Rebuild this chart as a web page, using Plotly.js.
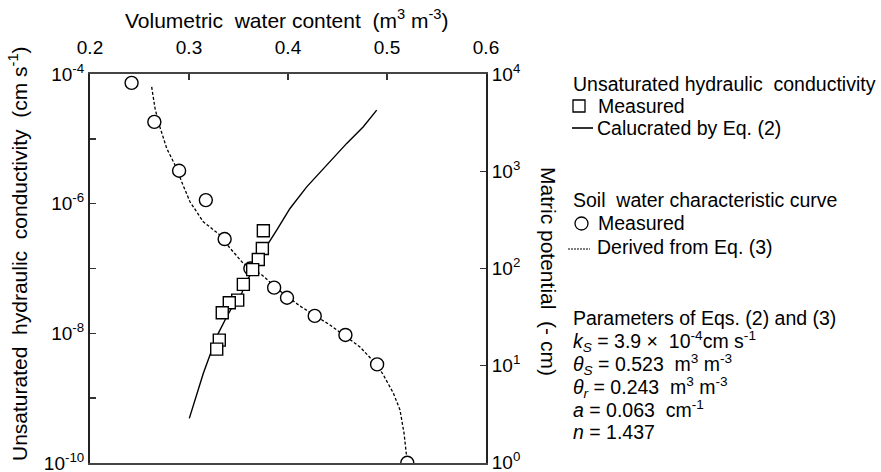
<!DOCTYPE html>
<html>
<head>
<meta charset="utf-8">
<script src="https://cdn.plot.ly/plotly-3.0.1.min.js"></script>
<style>html,body{margin:0;padding:0;background:#fff;}#chart{width:881px;height:472px;}</style>
</head>
<body>
<div id="chart"></div>
<script>
// Soil water characteristic curve: measured (theta, h)
const swccTheta = [0.242, 0.265, 0.290, 0.317, 0.336, 0.362, 0.386, 0.399, 0.427, 0.458, 0.490, 0.5205];
const swccH     = [8150, 3230, 1015, 506, 201, 100, 63.5, 50, 32.5, 20.7, 10.3, 1.0];
// Derived from Eq. (3)
const eq3Theta = [0.2623, 0.2657, 0.2700, 0.2775, 0.2876, 0.2926, 0.3010, 0.3144, 0.3313, 0.3414, 0.3548, 0.3737, 0.3919, 0.4121, 0.4424, 0.4727, 0.4896, 0.4963, 0.5064, 0.5131, 0.5172, 0.5199, 0.5205];
const eq3H     = [7390, 4440, 2990, 1720, 1072, 781, 486, 303, 221, 162, 113, 85.7, 58.7, 41.1, 26.2, 15.6, 10.2, 8.04, 5.21, 3.51, 2.02, 1.16, 1.0];
// Unsaturated hydraulic conductivity: measured (theta, K)
const kTheta = [0.3751, 0.3741, 0.3700, 0.3643, 0.3549, 0.3492, 0.3407, 0.3336, 0.3306, 0.3280];
const kMeas  = [3.82e-7, 2.04e-7, 1.38e-7, 9.6e-8, 5.69e-8, 3.25e-8, 2.96e-8, 2.07e-8, 7.85e-9, 5.7e-9];
// Calculated by Eq. (2)
const eq2Theta = [0.3003, 0.3078, 0.3144, 0.3212, 0.3296, 0.3381, 0.3447, 0.3532, 0.3583, 0.3633, 0.3697, 0.3747, 0.3801, 0.3886, 0.4020, 0.4189, 0.4391, 0.4593, 0.4761, 0.4896];
const eq2K     = [4.86e-10, 1.18e-9, 2.40e-9, 4.61e-9, 9.96e-9, 1.80e-8, 2.72e-8, 4.13e-8, 6.62e-8, 8.4e-8, 1.26e-7, 1.79e-7, 2.44e-7, 3.92e-7, 8.45e-7, 1.82e-6, 3.94e-6, 8.53e-6, 1.54e-5, 2.78e-5];
// Tick labels
const xTicks = [0.2, 0.3, 0.4, 0.5, 0.6];
const kTickVals = [1e-10, 1e-9, 1e-8, 1e-7, 1e-6, 1e-5, 1e-4];
const kTickText = ['10<sup>-10</sup>', '', '10<sup>-8</sup>', '', '10<sup>-6</sup>', '', '10<sup>-4</sup>'];
const hTickVals = [1, 10, 100, 1000, 10000];
const hTickText = ['10<sup>0</sup>', '10<sup>1</sup>', '10<sup>2</sup>', '10<sup>3</sup>', '10<sup>4</sup>'];

const FONT = 'Liberation Sans, Arial, sans-serif';
const TXT = 19.5;
const EPS = 0.002;

const traces = [
  {x: eq3Theta, y: eq3H, yaxis: 'y', mode: 'lines', line: {color: '#000', width: 1.3, dash: '3px,2px'}},
  {x: swccTheta, y: swccH, yaxis: 'y', mode: 'markers', marker: {symbol: 'circle', size: 13, color: '#fff', line: {color: '#000', width: 1.4}}},
  {x: eq2Theta, y: eq2K, yaxis: 'y2', mode: 'lines', line: {color: '#000', width: 1.4}},
  {x: kTheta, y: kMeas, yaxis: 'y2', mode: 'markers', marker: {symbol: 'square', size: 12, color: '#fff', line: {color: '#000', width: 1.4}}}
];

function px2paper(px, py) { return {x: (px - 90) / 396, y: (463 - py) / 389}; }
function ann(text, px, py, opts) {
  const p = px2paper(px, py);
  return Object.assign({text: text, x: p.x, y: p.y, xref: 'paper', yref: 'paper', showarrow: false,
    xanchor: 'left', yanchor: 'middle', font: {family: FONT, size: TXT, color: '#000'}}, opts || {});
}

const annotations = [
  ann('Volumetric  water content  (m<sup>3</sup> m<sup>-3</sup>)', 287, 19, {xanchor: 'center', font: {family: FONT, size: 21, color: '#000'}}),
  ann('Unsaturated  hydraulic  conductivity  (cm s<sup>-1</sup>)', 18, 254, {xanchor: 'center', textangle: -90, font: {family: FONT, size: 21, color: '#000'}}),
  ann('Matric potential  (- cm)', 549, 271, {xanchor: 'center', textangle: 90, font: {family: FONT, size: 21, color: '#000'}}),
  ann('Unsaturated hydraulic  conductivity', 571, 84),
  ann('Measured', 596, 106),
  ann('Calucrated by Eq. (2)', 595, 128),
  ann('Soil  water characteristic curve', 571, 200),
  ann('Measured', 596, 223),
  ann('Derived from Eq. (3)', 595, 247),
  ann('Parameters of Eqs. (2) and (3)', 571, 318),
  ann('<i>k<sub>S</sub></i> = 3.9 \u00D7  10<sup>-4</sup>cm s<sup>-1</sup>', 571, 341),
  ann('<i>\u03B8<sub>S</sub></i> = 0.523  m<sup>3</sup> m<sup>-3</sup>', 571, 364),
  ann('<i>\u03B8<sub>r</sub></i> = 0.243  m<sup>3</sup> m<sup>-3</sup>', 571, 387),
  ann('<i>a</i> = 0.063  cm<sup>-1</sup>', 571, 409),
  ann('<i>n</i> = 1.437', 571, 432)
];

function rect(type, x0, y0, x1, y1, line) {
  const a = px2paper(x0, y1), b = px2paper(x1, y0);
  return {type: type, xref: 'paper', yref: 'paper', x0: a.x, y0: a.y, x1: b.x, y1: b.y, line: line, fillcolor: 'rgba(0,0,0,0)'};
}
function seg(x0, x1, y, line) {
  const a = px2paper(x0, y), b = px2paper(x1, y);
  return {type: 'line', xref: 'paper', yref: 'paper', x0: a.x, y0: a.y, x1: b.x, y1: b.y, line: line};
}
const shapes = [
  rect('rect', 573, 100, 585, 112, {color: '#000', width: 1.3}),
  seg(572, 593, 128, {color: '#000', width: 1.6}),
  rect('circle', 575, 217, 588, 230, {color: '#000', width: 1.3}),
  seg(568, 590, 249, {color: '#000', width: 1, dash: '2px,1px'})
];

const tickFont = {family: FONT, size: 19, color: '#000'};
const layout = {
  width: 881, height: 472,
  margin: {l: 90, r: 395, t: 74, b: 9, pad: 0},
  paper_bgcolor: '#fff', plot_bgcolor: '#fff',
  showlegend: false,
  font: {family: FONT, size: 16, color: '#000'},
  xaxis: {
    side: 'top', range: [0.2, 0.6], tickvals: xTicks, tickformat: '.1f',
    ticks: 'inside', ticklen: 6, tickwidth: 1.3, tickcolor: '#333', ticklabelstandoff: 10,
    showline: true, linecolor: '#444', linewidth: 2, mirror: true,
    showgrid: false, zeroline: false, tickfont: tickFont, ticklabeloverflow: 'allow'
  },
  yaxis: {
    type: 'log', side: 'right', range: [0 - EPS, 4 + EPS], tickvals: hTickVals, ticktext: hTickText,
    ticks: 'inside', ticklen: 6, tickwidth: 1.3, tickcolor: '#333',
    showline: true, linecolor: '#222', linewidth: 2,
    showgrid: false, zeroline: false, tickfont: tickFont, ticklabeloverflow: 'allow'
  },
  yaxis2: {
    type: 'log', side: 'left', overlaying: 'y', range: [-10 - EPS, -4 + EPS], tickvals: kTickVals, ticktext: kTickText,
    ticks: 'inside', ticklen: 6, tickwidth: 1.3, tickcolor: '#333',
    showline: true, linecolor: '#222', linewidth: 2,
    showgrid: false, zeroline: false, tickfont: tickFont, ticklabeloverflow: 'allow'
  },
  annotations: annotations,
  shapes: shapes
};

Plotly.newPlot('chart', traces, layout, {staticPlot: true, displayModeBar: false});
</script>
</body>
</html>
